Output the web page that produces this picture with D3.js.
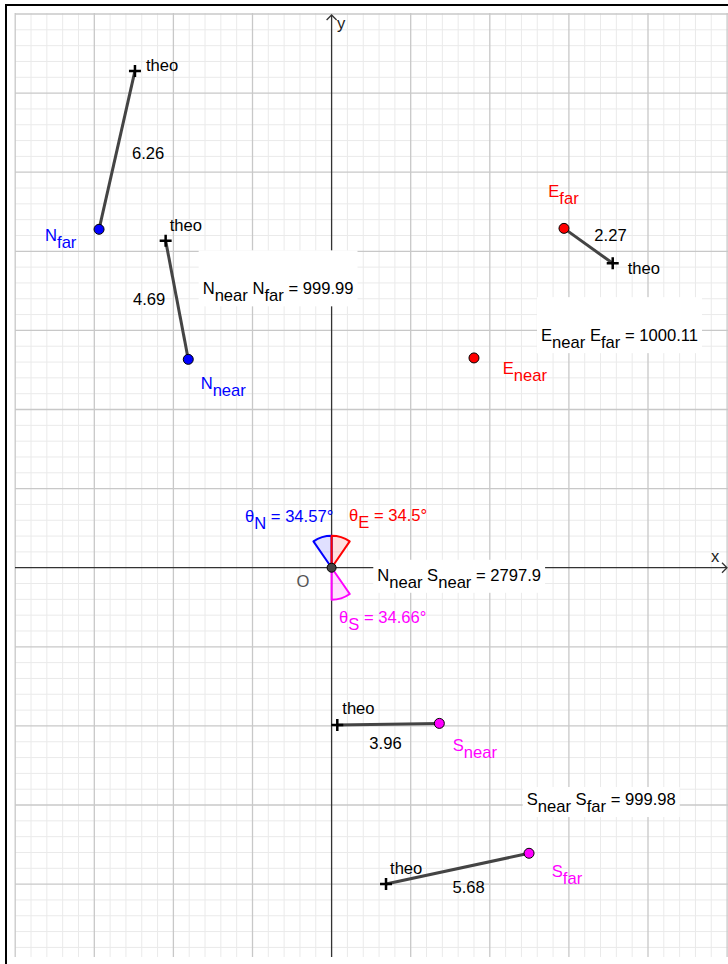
<!DOCTYPE html>
<html>
<head>
<meta charset="utf-8">
<script src="https://cdn.jsdelivr.net/npm/d3@7"></script>
<style>
  body { margin: 0; background: #fff; }
  svg text { font-family: "Liberation Sans", Arial, sans-serif; font-size: 16.6px; white-space: pre; }
</style>
</head>
<body>
<div class="holder"></div>
<script>
// measured points (data units)
var pointNames = ["N_far", "N_near", "E_far", "E_near", "S_near", "S_far"];
var pointX = [-1470, -906, 1469, 900, 681, 1248];
var pointY = [2139, 1317, 2145, 1326, -984, -1805];

// theoretical positions and their offsets
var theoOf = ["N_far", "N_near", "E_far", "S_near", "S_far"];
var theoX = [-1243, -1049, 1777, 36, 344];
var theoY = [3140, 2067, 1924, -994, -1999];
var theoDist = ["6.26", "4.69", "2.27", "3.96", "5.68"];

// lengths between points
var lengthFrom = ["N_near", "E_near", "N_near", "S_near"];
var lengthTo = ["N_far", "E_far", "S_near", "S_far"];
var lengthValues = ["999.99", "1000.11", "2797.9", "999.98"];

// bearing angles
var angleNames = ["N", "E", "S"];
var angleValues = [34.57, 34.5, 34.66];

var width = 728, height = 964;
var colors = {N: "#0000ff", E: "#ff0000", S: "#ff00ff"};

var x = d3.scaleLinear().domain([-2000, 2500]).range([15.2, 727.1]);
var y = d3.scaleLinear().domain([-2460, 3500]).range([956.9, 14]);

var svg = d3.select(".holder").append("svg")
    .attr("width", width)
    .attr("height", height);

// outer frame
svg.append("path")
    .attr("d", "M6,964 V5 H728")
    .attr("fill", "none")
    .attr("stroke", "#000")
    .attr("stroke-width", 2);

var plot = svg.append("g");
var x0 = 15, x1 = 728, y0 = 13, y1 = 957;

// grid, minor first then major
var gx = d3.range(-2000, 2501, 100), gy = d3.range(-2400, 3501, 100);
plot.selectAll(".vminor").data(gx.filter(function(d){ return d % 500 != 0; }))
  .enter().append("line")
    .attr("x1", d => x(d)).attr("x2", d => x(d))
    .attr("y1", y0).attr("y2", y1)
    .attr("stroke", "#eaeaea");
plot.selectAll(".hminor").data(gy.filter(function(d){ return d % 500 != 0; }))
  .enter().append("line")
    .attr("y1", d => y(d)).attr("y2", d => y(d))
    .attr("x1", x0).attr("x2", x1)
    .attr("stroke", "#eaeaea");
plot.selectAll(".vmajor").data(gx.filter(function(d){ return d % 500 == 0 && d != 0; }))
  .enter().append("line")
    .attr("x1", d => x(d)).attr("x2", d => x(d))
    .attr("y1", y0).attr("y2", y1)
    .attr("stroke", "#c8c8c8").attr("stroke-width", 1.3);
plot.selectAll(".hmajor").data(gy.filter(function(d){ return d % 500 == 0 && d != 0; }))
  .enter().append("line")
    .attr("y1", d => y(d)).attr("y2", d => y(d))
    .attr("x1", x0).attr("x2", x1)
    .attr("stroke", "#c8c8c8").attr("stroke-width", 1.3);

// axes
var axisColor = "#333";
plot.append("line").attr("x1", x0).attr("x2", 727).attr("y1", y(0)).attr("y2", y(0))
    .attr("stroke", axisColor).attr("stroke-width", 1.3);
plot.append("line").attr("x1", x(0)).attr("x2", x(0)).attr("y1", 15).attr("y2", y1)
    .attr("stroke", axisColor).attr("stroke-width", 1.3);
plot.append("path")
    .attr("d", `M${x(0)-5},${20} L${x(0)},${15} L${x(0)+5},${20}`)
    .attr("fill", "none").attr("stroke", axisColor).attr("stroke-width", 1.3);
plot.append("path")
    .attr("d", `M${722},${y(0)-5} L${727},${y(0)} L${722},${y(0)+5}`)
    .attr("fill", "none").attr("stroke", axisColor).attr("stroke-width", 1.3);
plot.append("text").attr("x", 711).attr("y", 562).attr("fill", "#222").text("x");
plot.append("text").attr("x", 337).attr("y", 29).attr("fill", "#222").text("y");

function idx(name) { return pointNames.indexOf(name); }
function px(name) { return x(pointX[idx(name)]); }
function py(name) { return y(pointY[idx(name)]); }

// text with subscripts: parts = [[text, isSub], ...]
function subText(g, tx, ty, parts, color) {
  var t = g.append("text").attr("x", tx).attr("y", ty).attr("fill", color);
  var down = false;
  parts.forEach(function(p) {
    var dy = 0;
    if (p[1] && !down) { dy = 7; down = true; }
    else if (!p[1] && down) { dy = -7; down = false; }
    t.append("tspan").attr("dy", dy).text(p[0]);
  });
  return t;
}

// angle sectors at the origin
var arc = d3.arc().innerRadius(0).outerRadius(32);
var sectorAngles = {
  N: function(a){ return [-a, 0]; },
  E: function(a){ return [0, a]; },
  S: function(a){ return [180 - a, 180]; }
};
var sectors = plot.append("g").attr("transform", `translate(${x(0)},${y(0)})`);
angleNames.forEach(function(n, i) {
  var se = sectorAngles[n](angleValues[i]);
  sectors.append("path")
      .attr("d", arc({startAngle: se[0] * Math.PI / 180, endAngle: se[1] * Math.PI / 180}))
      .attr("fill", colors[n]).attr("fill-opacity", 0.12)
      .attr("stroke", colors[n]).attr("stroke-width", 2)
      .attr("stroke-linejoin", "round");
});

// segments point -> theo
var segs = plot.append("g");
theoOf.forEach(function(n, i) {
  segs.append("line")
      .attr("x1", px(n)).attr("y1", py(n))
      .attr("x2", x(theoX[i])).attr("y2", y(theoY[i]))
      .attr("stroke", "#444").attr("stroke-width", 3);
});

// theo markers and labels
var theoLabelOff = [[11, 0], [4, -10], [15, 11], [5, -11], [4, -10]];
var distOff = [[15, 9], [-44, 5], [6, -5], [-19, 25], [-5, 24]];
theoOf.forEach(function(n, i) {
  var tx = x(theoX[i]), ty = y(theoY[i]);
  segs.append("path")
      .attr("d", `M${tx-6},${ty} H${tx+6} M${tx},${ty-6} V${ty+6}`)
      .attr("stroke", "#000").attr("stroke-width", 2.5);
  segs.append("text")
      .attr("x", tx + theoLabelOff[i][0]).attr("y", ty + theoLabelOff[i][1])
      .attr("fill", "#000").text("theo");
  var mx = (tx + px(n)) / 2, my = (ty + py(n)) / 2;
  segs.append("text")
      .attr("x", mx + distOff[i][0]).attr("y", my + distOff[i][1])
      .attr("fill", "#000").text(theoDist[i]);
});

// length labels with white boxes
var lenOff = [[59, 0], [22, 48], [63.5, 39.4], [42.5, 16.7]];
var lenTop = [44, 44, 21, 18];
var labels = plot.append("g");
lengthFrom.forEach(function(a, i) {
  var b = lengthTo[i];
  var mx = (px(a) + px(b)) / 2 + lenOff[i][0];
  var my = (py(a) + py(b)) / 2 + lenOff[i][1];
  var box = labels.append("rect").attr("fill", "#fff");
  var sa = a.split("_"), sb = b.split("_");
  var t = subText(labels, mx, my,
      [[sa[0], false], [sa[1], true], [" " + sb[0], false], [sb[1], true], [" = " + lengthValues[i], false]], "#000");
  var bb = t.node().getBBox();
  box.attr("x", mx - 4).attr("y", my - lenTop[i])
     .attr("width", bb.width + 8).attr("height", lenTop[i] + 12);
});

// angle labels
var angleOff = [[-86.6, -46], [17.4, -46.7], [7.4, 55]];
angleNames.forEach(function(n, i) {
  subText(labels, x(0) + angleOff[i][0], y(0) + angleOff[i][1],
      [["θ", false], [n, true], [" = " + angleValues[i] + "°", false]], colors[n]);
});

// origin
labels.append("circle").attr("cx", x(0)).attr("cy", y(0)).attr("r", 4.5)
    .attr("fill", "#444").attr("stroke", "#000").attr("stroke-width", 1);
labels.append("text").attr("x", x(0) - 35).attr("y", y(0) + 19).attr("fill", "#555").text("O");

// measured points
var pointLabelOff = [[-54, 12], [12.4, 30], [-15.7, -31.6], [28.7, 16.3], [13.4, 27.7], [22.7, 23.4]];
pointNames.forEach(function(n, i) {
  var parts = n.split("_");
  var c = colors[parts[0]];
  labels.append("circle")
      .attr("cx", x(pointX[i])).attr("cy", y(pointY[i])).attr("r", 5)
      .attr("fill", c).attr("stroke", "#000").attr("stroke-width", 1);
  subText(labels, x(pointX[i]) + pointLabelOff[i][0], y(pointY[i]) + pointLabelOff[i][1],
      [[parts[0], false], [parts[1], true]], c);
});
</script>
</body>
</html>
